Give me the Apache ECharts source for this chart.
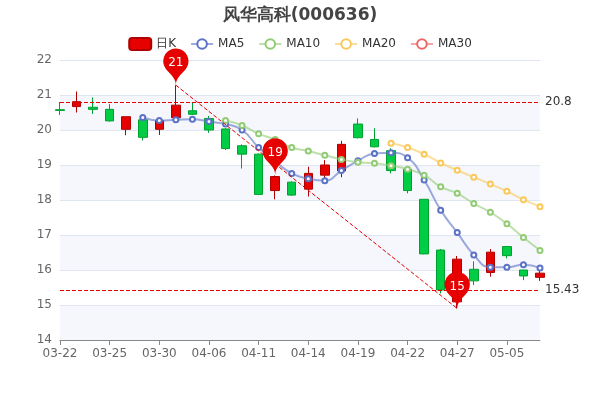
<!DOCTYPE html>
<html><head><meta charset="utf-8">
<script src="https://cdn.jsdelivr.net/npm/echarts@6/dist/echarts.min.js"></script>
<style>html,body{margin:0;padding:0;background:#fff}#main{width:600px;height:400px}</style>
</head><body><div id="main"></div>
<script>
const dates = ["03-22","03-23","03-24","03-25","03-28","03-29","03-30","03-31","04-01","04-06","04-07","04-08","04-11","04-12","04-13","04-14","04-15","04-18","04-19","04-20","04-21","04-22","04-25","04-26","04-27","04-28","04-29","05-05","05-06","05-09"]
// [open, close, low, high]
const kData = [
    [20.58,20.56,20.43,20.8],[20.67,20.81,20.5,21.1],[20.65,20.59,20.46,20.93],[20.59,20.26,20.24,20.74],
    [20.02,20.38,19.85,20.38],[20.29,19.79,19.7,20.3],[20.02,20.27,19.86,20.3],[20.35,20.71,20.3,21.28],
    [20.55,20.45,20.43,20.78],[20.33,20.0,19.92,20.4],[20.03,19.47,19.43,20.05],[19.55,19.31,18.9,19.59],
    [19.31,18.16,18.14,19.33],[18.27,18.67,18.02,18.7],[18.51,18.14,18.12,18.53],[18.31,18.76,18.1,18.95],
    [18.71,19.0,18.52,19.14],[18.83,19.59,18.65,19.69],[20.17,19.78,19.76,20.33],[19.73,19.52,19.5,20.05],
    [19.41,18.84,18.76,19.48],[18.88,18.27,18.19,18.9],[18.02,16.46,16.45,18.02],[16.57,15.43,15.33,16.6],
    [15.09,16.31,14.9,16.4],[16.02,15.69,15.57,16.25],[15.93,16.51,15.81,16.6],[16.67,16.41,16.33,16.67],
    [16.0,15.83,15.71,16.0],[15.79,15.91,15.69,16.02]
]
const ma5 = ["-","-","-","-","-",20.36,20.27,20.29,20.31,20.24,20.17,20.0,19.5,19.1,18.76,18.61,18.55,18.84,19.12,19.33,19.35,19.21,18.57,17.71,17.07,16.43,16.08,16.08,16.15,16.06]
const ma10 = ["-","-","-","-","-","-","-","-","-","-",20.27,20.13,19.89,19.73,19.5,19.4,19.28,19.16,19.08,19.05,18.98,18.88,18.71,18.38,18.19,17.9,17.65,17.32,16.93,16.56]
const ma20 = ["-","-","-","-","-","-","-","-","-","-","-","-","-","-","-","-","-","-","-","-",19.62,19.5,19.31,19.06,18.85,18.65,18.46,18.25,18.01,17.81]
const ma30 = []
const hLines = [20.8, 15.43]

const chart = echarts.init(document.getElementById("main"))
const font = "DejaVu Sans"
const maLine = (name,data,color) => ({
    name, type:"line", data, smooth:true, symbol:"emptyCircle", symbolSize:5,
    itemStyle:{color}, lineStyle:{color, width:2, opacity:0.6}
})
chart.setOption({
    animation:false,
    textStyle:{fontFamily:font},
    title:{
        text:"{a|风华高科}{b|(000636)}", left:"center", top:2,
        textStyle:{rich:{a:{fontSize:17,color:"#444",fontFamily:font},b:{fontSize:17,fontWeight:"bold",color:"#444",fontFamily:font}}}
    },
    legend:{
        top:32, left:"center", itemGap:14, itemWidth:22, itemHeight:12,
        textStyle:{fontSize:12,color:"#333"},
        data:[{name:"日K",icon:"roundRect"},"MA5","MA10","MA20","MA30"]
    },
    grid:{left:60,right:60,top:60,bottom:60},
    xAxis:{
        type:"category", data:dates, boundaryGap:false,
        axisLine:{lineStyle:{color:"#888"}},
        axisTick:{interval:2},
        axisLabel:{interval:2,color:"#666",fontSize:12},
        splitLine:{show:false}
    },
    yAxis:{
        min:14, max:22, interval:1, scale:true,
        axisLabel:{color:"#666",fontSize:12},
        axisLine:{show:false}, axisTick:{show:false},
        splitLine:{lineStyle:{color:"#e0e6f1"}},
        splitArea:{show:true,areaStyle:{color:["#f5f7fc","#ffffff"]}}
    },
    series:[
        {
            name:"日K", type:"candlestick", data:kData, barWidth:9,
            itemStyle:{color:"#e60000",color0:"#00cc44",borderColor:"#b00000",borderColor0:"#00a030"},
            markPoint:{
                symbol:"pin", symbolSize:42,
                itemStyle:{color:"#e60000"},
                label:{color:"#fff",fontSize:12},
                data:[
                    {coord:[7,21.28],value:21},
                    {coord:[13,18.72],value:19},
                    {coord:[24,14.9],value:15}
                ]
            },
            markLine:{
                symbol:"none", silent:true,
                lineStyle:{color:"#e60000",type:"dashed",width:1},
                label:{position:"end",color:"#333",fontSize:12},
                data:[
                    {yAxis:hLines[0]},
                    {yAxis:hLines[1]},
                    [{coord:[7,21.28],label:{show:false}},{coord:[24,14.9]}]
                ]
            }
        },
        maLine("MA5",ma5,"#5b72c6"),
        maLine("MA10",ma10,"#91cc75"),
        maLine("MA20",ma20,"#fac858"),
        maLine("MA30",ma30,"#ee6666")
    ]
})
</script></body></html>
